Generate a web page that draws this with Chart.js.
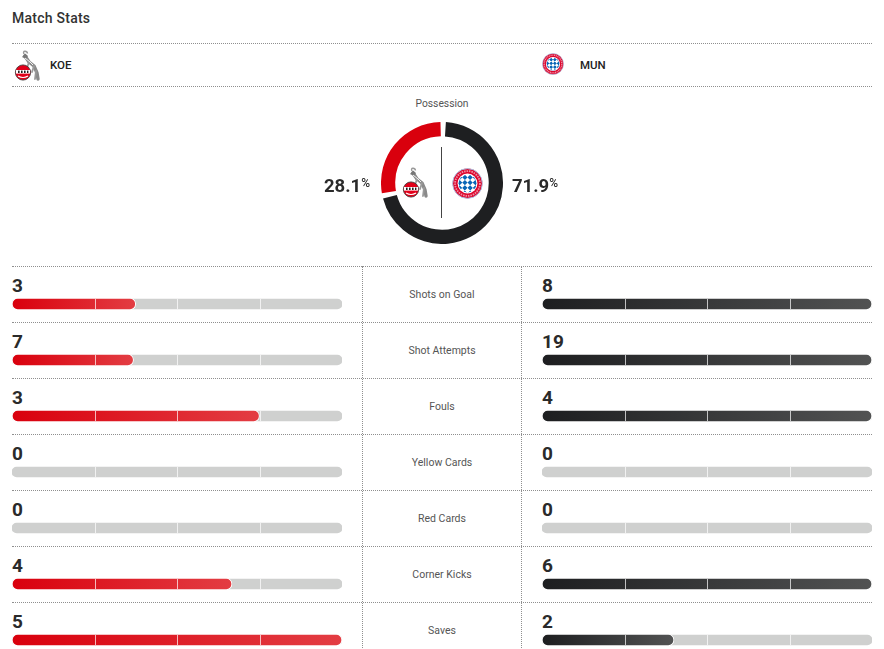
<!DOCTYPE html>
<html><head><meta charset="utf-8">
<script src="https://cdn.jsdelivr.net/npm/chart.js@4.4.1/dist/chart.umd.min.js"></script>
<style>
html,body{margin:0;padding:0;background:#fff;}
body{width:884px;height:649px;overflow:hidden;position:relative;font-family:Roboto,"Open Sans",sans-serif;color:#222;}
.abs{position:absolute;}
.hline{position:absolute;left:12px;width:860px;height:0;border-top:1px dotted #8f8f8f;}
.vline{position:absolute;top:266px;height:400px;width:0;border-left:1px dotted #8f8f8f;}
.title{left:12px;top:9px;font-size:14px;font-weight:500;color:#333;letter-spacing:0.25px;line-height:18px;}
.team{font-size:11.5px;font-weight:500;color:#222;line-height:14px;top:58px;}
.poslabel{left:362px;width:160px;text-align:center;top:98px;font-size:10.3px;color:#555;line-height:12px;}
.pct{font-size:18.5px;font-weight:700;color:#2a2a2a;line-height:20px;top:173px;}
.pct span{font-size:12px;font-weight:500;vertical-align:5px;}
.num{font-size:19px;font-weight:700;color:#2a2a2a;line-height:19px;}
.stat{left:362px;width:160px;height:56px;display:flex;align-items:center;justify-content:center;font-size:10.5px;color:#555;}
canvas{position:absolute;}
</style>
</head><body>
<div class="abs title">Match Stats</div>
<div class="hline" style="top:43px"></div>
<div class="hline" style="top:86px"></div>
<div class="hline" style="top:266px"></div>
<div id="koeLogo" class="abs" style="left:14px;top:50px;width:27px;height:31px"></div>
<div class="abs team" style="left:50px">KOE</div>
<div id="munLogo" class="abs" style="left:542px;top:53px;width:22px;height:22px"></div>
<div class="abs team" style="left:580px">MUN</div>
<div class="abs poslabel">Possession</div>
<canvas id="donut" width="122" height="122" style="left:381px;top:122px"></canvas>
<div class="abs" style="left:441px;top:147px;width:1px;height:71px;background:#444"></div>
<div id="koeLogo2" class="abs" style="left:402px;top:167px;width:27px;height:31px"></div>
<div id="munLogo2" class="abs" style="left:452px;top:168px;width:31px;height:31px"></div>
<div id="pctHome" class="abs pct" style="right:514px;text-align:right"></div>
<div id="pctAway" class="abs pct" style="left:512px"></div>
<div id="rows"></div>
<div class="vline" style="left:362px"></div>
<div class="vline" style="left:521px"></div>
<canvas id="homeBars" width="330" height="392" style="left:12px;top:276px"></canvas>
<canvas id="awayBars" width="330" height="392" style="left:542px;top:276px"></canvas>
<script>
const categories = ['Shots on Goal','Shot Attempts','Fouls','Yellow Cards','Red Cards','Corner Kicks','Saves'];
const homeValues = [3,7,3,0,0,4,5];
const awayValues = [8,19,4,0,0,6,2];
const teams = ['KOE','MUN'];
const possessionHome = 28.1;
const possessionAway = 71.9;
const quarterTicks = [0.25,0.5,0.75];

function bayern(id){
  return '<svg viewBox="0 0 100 100" width="100%" height="100%"><defs>'+
  '<pattern id="p'+id+'" width="24" height="24" patternUnits="userSpaceOnUse" patternTransform="rotate(45 50 50)">'+
  '<rect width="24" height="24" fill="#0a66b7"/><rect width="12" height="12" fill="#fff"/><rect x="12" y="12" width="12" height="12" fill="#fff"/></pattern></defs>'+
  '<circle cx="50" cy="50" r="48" fill="#dc052d" stroke="#a9c8e8" stroke-width="3"/>'+
  '<circle cx="50" cy="50" r="40" fill="none" stroke="#fff" stroke-width="6" stroke-dasharray="5 3" opacity="0.55"/>'+
  '<circle cx="50" cy="50" r="32" fill="#fff"/>'+
  '<circle cx="50" cy="50" r="29" fill="url(#p'+id+')"/></svg>';
}
function koe(){
  return '<svg viewBox="0 0 27 31" width="100%" height="100%" preserveAspectRatio="none">'+
  '<path d="M11 6 L15 12 L20 16 L23 23 L24 29" fill="none" stroke="#8a8a8a" stroke-width="3.4" stroke-linecap="round" stroke-linejoin="round"/>'+
  '<path d="M15 12 L13 18 M20 16 L18 22 M22 21 L21 29" fill="none" stroke="#9a9a9a" stroke-width="1.8" stroke-linecap="round"/>'+
  '<path d="M8 7 L11 3.5 L14 6 L12 9 Z" fill="#777"/>'+
  '<path d="M10 4 C8 0.5 13 0.5 13.5 3.5" fill="none" stroke="#999" stroke-width="1.4"/>'+
  '<path d="M11 8 L16 12 L19 15" fill="none" stroke="#fff" stroke-width="0.9"/>'+
  '<circle cx="9" cy="22.5" r="7.6" fill="#e2001a" stroke="#333" stroke-width="0.8"/>'+
  '<rect x="2" y="20" width="14" height="3.6" fill="#fff"/>'+
  '<rect x="4" y="20.6" width="1.6" height="2.4" fill="#222"/><rect x="7" y="20.6" width="1.6" height="2.4" fill="#222"/><rect x="10" y="20.6" width="1.6" height="2.4" fill="#222"/><rect x="13" y="20.6" width="1.4" height="2.4" fill="#222"/>'+
  '<path d="M4 26 Q9 29 14 26" fill="none" stroke="#fff" stroke-width="1.2"/></svg>';
}
document.getElementById('koeLogo').innerHTML = koe();
document.getElementById('koeLogo2').innerHTML = koe();
document.getElementById('munLogo').innerHTML = bayern('a');
document.getElementById('munLogo2').innerHTML = bayern('b');
document.getElementById('pctHome').innerHTML = possessionHome.toFixed(1) + '<span>%</span>';
document.getElementById('pctAway').innerHTML = possessionAway.toFixed(1) + '<span>%</span>';

const rows = document.getElementById('rows');
let html = '';
categories.forEach((c,i)=>{
  const top = 266 + 56*i;
  if (i>0) html += '<div class="hline" style="top:'+top+'px"></div>';
  html += '<div class="abs num" style="left:12px;top:'+(top+10)+'px">'+homeValues[i]+'</div>';
  html += '<div class="abs num" style="left:542px;top:'+(top+10)+'px">'+awayValues[i]+'</div>';
  html += '<div class="abs stat" style="top:'+top+'px">'+c+'</div>';
});
rows.innerHTML = html;

function grad(ctx, c0, c1){
  const chart = ctx.chart;
  if (!chart.chartArea || ctx.type !== 'data' || !ctx.raw) return c0;
  const xs = chart.scales.x;
  const x0 = xs.getPixelForValue(0), x1 = xs.getPixelForValue(ctx.raw);
  if (x1 - x0 < 1) return c0;
  const g = chart.ctx.createLinearGradient(x0,0,x1,0);
  g.addColorStop(0,c0); g.addColorStop(1,c1);
  return g;
}
const quarterPlugin = {
  id:'quarters',
  afterDatasetsDraw(chart){
    const {ctx} = chart; const xs = chart.scales.x, ys = chart.scales.y;
    ctx.save();
    ctx.strokeStyle = 'rgba(255,255,255,0.7)'; ctx.lineWidth = 1;
    categories.forEach((c,i)=>{
      const yc = ys.getPixelForValue(i);
      quarterTicks.forEach(q=>{
        const px = Math.round(xs.getPixelForValue(q)) + 0.5;
        ctx.beginPath(); ctx.moveTo(px, yc-5); ctx.lineTo(px, yc+5); ctx.stroke();
      });
    });
    ctx.restore();
  }
};
function makeBars(id, values, other, c0, c1){
  const frac = values.map((v,i)=>{ const m = Math.max(v, other[i]); return m ? v/m : 0; });
  const full = categories.map(()=>1);
  new Chart(document.getElementById(id), {
    type:'bar',
    data:{labels:categories, datasets:[
      {data:frac, backgroundColor:(ctx)=>grad(ctx,c0,c1), borderColor:'#fff', borderWidth:1, borderSkipped:false, borderRadius:6, barThickness:12, grouped:false, order:0},
      {data:full, backgroundColor:'#cfd0cf', borderWidth:0, borderSkipped:false, borderRadius:5, barThickness:10, grouped:false, order:1}
    ]},
    options:{indexAxis:'y', responsive:false, maintainAspectRatio:false, animation:false, events:[],
      layout:{padding:0},
      plugins:{legend:{display:false}, tooltip:{enabled:false}},
      scales:{x:{display:false, min:0, max:1}, y:{display:false}}
    },
    plugins:[quarterPlugin]
  });
}
makeBars('homeBars', homeValues, awayValues, '#d9000d', '#e33d43');
makeBars('awayBars', awayValues, homeValues, '#1d1e20', '#525353');

new Chart(document.getElementById('donut'), {
  type:'doughnut',
  data:{labels:[teams[1], teams[0]], datasets:[{data:[possessionAway, possessionHome], backgroundColor:['#1e1f21','#d9000d'], borderWidth:0, spacing:3}]},
  options:{responsive:false, animation:false, events:[], cutout:'76%', layout:{padding:0},
    plugins:{legend:{display:false}, tooltip:{enabled:false}}}
});
</script>
</body></html>
